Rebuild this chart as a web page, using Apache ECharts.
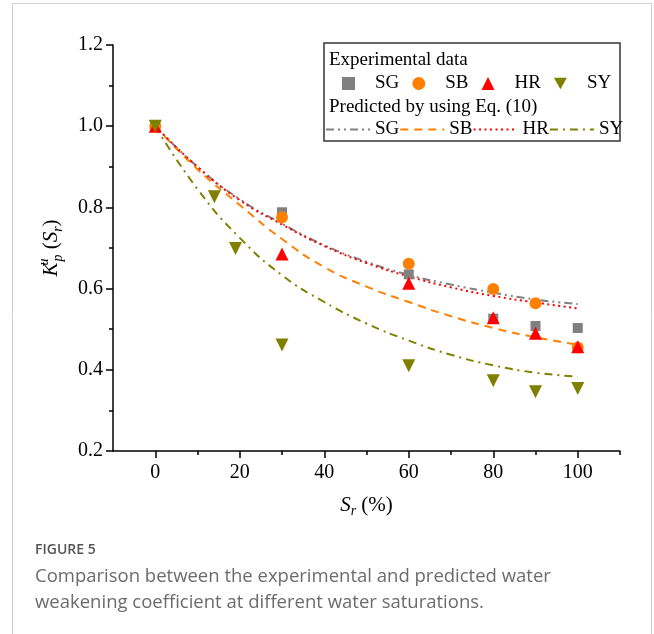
<!DOCTYPE html>
<html>
<head>
<meta charset="utf-8">
<script src="https://cdn.jsdelivr.net/npm/echarts@6/dist/echarts.min.js"></script>
<style>
html,body{margin:0;padding:0;background:#fff;}
#chart{width:654px;height:634px;}
</style>
</head>
<body>
<div id="chart"></div>
<script>
// ---- Data ----
var expX = [0, 30, 60, 80, 90, 100];
var SG_exp = [1.0, 0.788, 0.635, 0.526, 0.508, 0.503];
var SB_exp = [1.0, 0.776, 0.661, 0.599, 0.564, 0.455];
var HR_exp = [1.0, 0.685, 0.613, 0.528, 0.490, 0.457];
var SY_x   = [0, 14, 19, 30, 60, 80, 90, 100];
var SY_exp = [1.0, 0.826, 0.699, 0.461, 0.410, 0.373, 0.346, 0.354];

var predX   = [0, 10, 20, 30, 40, 50, 60, 70, 80, 90, 100];
var SG_pred = [1.0, 0.900, 0.820, 0.760, 0.707, 0.666, 0.634, 0.610, 0.590, 0.573, 0.562];
var SB_pred = [1.0, 0.894, 0.806, 0.722, 0.653, 0.605, 0.567, 0.532, 0.503, 0.480, 0.462];
var HR_pred = [1.0, 0.900, 0.818, 0.758, 0.705, 0.663, 0.630, 0.603, 0.582, 0.566, 0.551];
var SY_pred = [1.0, 0.845, 0.725, 0.633, 0.567, 0.514, 0.472, 0.437, 0.411, 0.393, 0.383];

var xMajorTicks = [0, 20, 40, 60, 80, 100];
var xMinorTicks = [10, 30, 50, 70, 90, 110];

function pairs(xs, ys) { return xs.map(function (x, i) { return [x, ys[i]]; }); }

var serif = 'Liberation Serif';
var chart = echarts.init(document.getElementById('chart'));

function lineSeries(name, xs, ys, color, dash, width) {
  return {
    name: name, type: 'line', data: pairs(xs, ys), smooth: true,
    symbol: 'none', showSymbol: false, z: 3,
    lineStyle: { color: color, width: width, type: dash },
    itemStyle: { color: color }
  };
}
function scatterSeries(name, xs, ys, color, symbol, size, z) {
  return {
    name: name, type: 'scatter', data: pairs(xs, ys), symbol: symbol,
    symbolSize: size, itemStyle: { color: color, opacity: 1 }, z: z
  };
}

var fmt = function (n) { return n.split('_')[0]; };

chart.setOption({
  animation: false,
  grid: { left: 113, right: 34, top: 45, bottom: 183, containLabel: false },
  xAxis: [{
    type: 'value', min: -10, max: 110,
    name: '{s|S}{sub|r}{n| (%)}', nameLocation: 'middle', nameGap: 41,
    nameTextStyle: {
      rich: {
        s: { fontFamily: serif, fontSize: 21, fontStyle: 'italic', color: '#000', lineHeight: 26 },
        sub: { fontFamily: serif, fontSize: 14, fontStyle: 'italic', color: '#000', verticalAlign: 'bottom', lineHeight: 14 },
        n: { fontFamily: serif, fontSize: 21, color: '#000', lineHeight: 26 }
      }
    },
    axisLine: { show: true, onZero: false, lineStyle: { color: '#000', width: 1.5 } },
    axisTick: { show: true, length: 7, customValues: xMajorTicks, lineStyle: { color: '#000', width: 1.5 } },
    axisLabel: { customValues: xMajorTicks, fontFamily: serif, fontSize: 20, color: '#000', margin: 12 },
    splitLine: { show: false }
  }, {
    type: 'value', min: -10, max: 110, position: 'bottom',
    axisLine: { show: false },
    axisTick: { show: true, length: 4, customValues: xMinorTicks, lineStyle: { color: '#000', width: 1.5 } },
    axisLabel: { show: false },
    splitLine: { show: false }
  }],
  yAxis: {
    type: 'value', min: 0.2, max: 1.2, interval: 0.2,
    name: '{k|K}{sup|u}{sub|p}{n| (}{s|S}{sub2|r}{n|)}', nameLocation: 'middle', nameGap: 48, nameRotate: 90,
    nameTextStyle: {
      rich: {
        k: { fontFamily: serif, fontSize: 21, fontStyle: 'italic', color: '#000', lineHeight: 28 },
        sup: { fontFamily: serif, fontSize: 14, fontStyle: 'italic', color: '#000', verticalAlign: 'top', lineHeight: 14, width: 1 },
        sub: { fontFamily: serif, fontSize: 14, fontStyle: 'italic', color: '#000', verticalAlign: 'bottom', lineHeight: 14 },
        sub2: { fontFamily: serif, fontSize: 14, fontStyle: 'italic', color: '#000', verticalAlign: 'bottom', lineHeight: 14 },
        s: { fontFamily: serif, fontSize: 21, fontStyle: 'italic', color: '#000', lineHeight: 28 },
        n: { fontFamily: serif, fontSize: 21, color: '#000', lineHeight: 28 }
      }
    },
    axisLine: { show: true, onZero: false, lineStyle: { color: '#000', width: 1.5 } },
    axisTick: { show: true, length: 7, lineStyle: { color: '#000', width: 1.5 } },
    minorTick: { show: true, splitNumber: 2, length: 4, lineStyle: { color: '#000', width: 1.5 } },
    axisLabel: { fontFamily: serif, fontSize: 20, color: '#000', margin: 10,
      formatter: function (v) { return v.toFixed(1); } },
    splitLine: { show: false }
  },
  legend: [{
    data: ['SG_exp', 'SB_exp', 'HR_exp', 'SY_exp'],
    left: 342, top: 74, orient: 'horizontal', padding: 0,
    itemWidth: 13, itemHeight: 13, itemGap: 13, symbolKeepAspect: true,
    formatter: fmt, selectedMode: false,
    textStyle: { fontFamily: serif, fontSize: 19, color: '#000', width: 27, padding: [0, 0, 0, 15] }
  }, {
    data: ['SG_pred', 'SB_pred', 'HR_pred', 'SY_pred'],
    left: 325, top: 120, orient: 'horizontal', padding: 0,
    itemWidth: 44, itemHeight: 14, itemGap: 0,
    itemStyle: { opacity: 0 },
    formatter: fmt, selectedMode: false,
    textStyle: { fontFamily: serif, fontSize: 19, color: '#000' }
  }],
  graphic: [
    { type: 'rect', silent: true, z: -10,
      shape: { x: 12.5, y: 3.5, width: 639, height: 700 },
      style: { fill: 'none', stroke: '#cfcfcf', lineWidth: 1 } },
    { type: 'rect', silent: true, z: 0,
      shape: { x: 324, y: 43, width: 296, height: 98 },
      style: { fill: '#fff', stroke: '#333', lineWidth: 1.5 } },
    { type: 'text', silent: true, z: 1, left: 329, top: 51,
      style: { text: 'Experimental data', font: '19px "Liberation Serif"', fill: '#000' } },
    { type: 'text', silent: true, z: 1, left: 329, top: 98,
      style: { text: 'Predicted by using Eq. (10)', font: '19px "Liberation Serif"', fill: '#000' } },
    { type: 'text', silent: true, left: 35, top: 543,
      style: { text: 'FIGURE 5', font: '600 14px "Open Sans"', fill: '#555' } },
    { type: 'text', silent: true, left: 35, top: 567,
      style: { text: 'Comparison between the experimental and predicted water', font: '18.5px "Open Sans"', fill: '#6b6b6b' } },
    { type: 'text', silent: true, left: 35, top: 593,
      style: { text: 'weakening coefficient at different water saturations.', font: '18.5px "Open Sans"', fill: '#6b6b6b' } }
  ],
  series: [
    scatterSeries('SG_exp', expX, SG_exp, '#808080', 'rect', 10, 4),
    scatterSeries('SB_exp', expX, SB_exp, '#FF8000', 'circle', 12, 5),
    scatterSeries('HR_exp', expX, HR_exp, '#FF0000', 'triangle', 13, 6),
    scatterSeries('SY_exp', SY_x, SY_exp, '#808000', 'path://M0,0 L10,0 L5,9 Z', 13, 7),
    lineSeries('SG_pred', predX, SG_pred, '#808080', [8, 4, 2, 4, 2, 4], 2),
    lineSeries('SB_pred', predX, SB_pred, '#FF8000', [8, 6], 2),
    lineSeries('HR_pred', predX, HR_pred, '#FF0000', [2, 3.5], 2),
    lineSeries('SY_pred', predX, SY_pred, '#808000', [8, 5, 2, 5], 2)
  ]
});
</script>
</body>
</html>
